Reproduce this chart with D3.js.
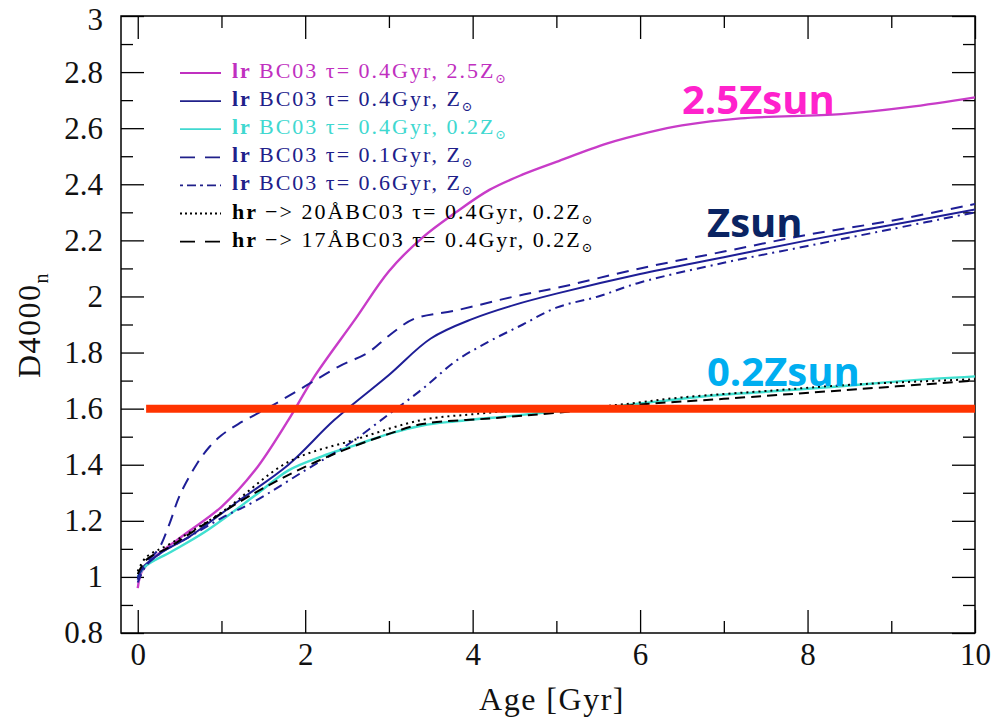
<!DOCTYPE html>
<html>
<head>
<meta charset="utf-8">
<script src="https://cdn.jsdelivr.net/npm/d3@7"></script>
<style>
  body { margin: 0; background: #fff; }
  svg { display: block; }
</style>
</head>
<body>
<div id="chart"></div>
<script>
// ---- data (age in Gyr, D4000n) ----
const magentaAge = [0, 0.05, 0.2, 0.6, 1.0, 1.4, 1.8, 2.1, 2.6, 3.0, 3.4, 3.8, 4.2, 4.6, 5.0, 5.6, 6.1, 6.5, 7.2, 8.4, 9.2, 10];
const magentaD4000 = [0.96, 1.02, 1.07, 1.16, 1.25, 1.38, 1.56, 1.71, 1.92, 2.09, 2.21, 2.30, 2.38, 2.435, 2.48, 2.545, 2.585, 2.61, 2.635, 2.65, 2.675, 2.71];

const navyAge = [0, 0.05, 0.3, 0.6, 1.2, 1.8, 2.35, 3.0, 3.5, 4.0, 4.5, 5.0, 6.0, 7.0, 8.0, 9.0, 10];
const navyD4000 = [0.99, 1.03, 1.09, 1.14, 1.27, 1.40, 1.56, 1.72, 1.85, 1.92, 1.97, 2.01, 2.08, 2.14, 2.20, 2.255, 2.31];

const cyanAge = [0, 0.1, 0.4, 0.8, 1.4, 1.8, 2.2, 2.6, 3.0, 3.4, 3.8, 4.5, 5.0, 5.6, 6.2, 6.8, 7.5, 8.4, 9.2, 10];
const cyanD4000 = [1.0, 1.04, 1.09, 1.16, 1.29, 1.38, 1.43, 1.47, 1.51, 1.54, 1.555, 1.575, 1.59, 1.605, 1.625, 1.645, 1.66, 1.68, 1.70, 1.715];

const tau01Age = [0, 0.1, 0.25, 0.38, 0.5, 0.7, 0.86, 1.0, 1.2, 1.6, 2.0, 2.4, 2.75, 3.0, 3.3, 3.8, 4.5, 5.0, 6.0, 7.0, 8.0, 9.0, 10];
const tau01D4000 = [1.0, 1.05, 1.10, 1.19, 1.29, 1.40, 1.465, 1.505, 1.545, 1.61, 1.68, 1.75, 1.80, 1.86, 1.92, 1.95, 2.00, 2.03, 2.10, 2.16, 2.22, 2.27, 2.33];

const tau06Age = [0, 0.1, 0.3, 0.6, 1.0, 1.4, 2.0, 2.5, 3.0, 3.4, 3.8, 4.2, 4.6, 5.0, 5.5, 6.0, 7.0, 8.0, 9.0, 10];
const tau06D4000 = [0.98, 1.04, 1.09, 1.14, 1.21, 1.27, 1.38, 1.47, 1.58, 1.67, 1.77, 1.84, 1.90, 1.96, 2.00, 2.05, 2.12, 2.18, 2.24, 2.30];

const hr20Age = [0, 0.1, 0.4, 1.0, 1.8, 2.6, 3.4, 4.0, 4.8, 5.6, 6.5, 7.6, 8.5, 10];
const hr20D4000 = [1.02, 1.07, 1.12, 1.23, 1.41, 1.49, 1.56, 1.58, 1.60, 1.61, 1.64, 1.665, 1.685, 1.705];

const hr17Age = [0, 0.1, 0.4, 0.6, 1.4, 2.2, 3.0, 3.4, 4.2, 5.0, 6.0, 7.0, 8.4, 10];
const hr17D4000 = [1.01, 1.06, 1.11, 1.15, 1.30, 1.42, 1.51, 1.545, 1.565, 1.585, 1.615, 1.635, 1.665, 1.70];

// horizontal reference level
const refLevel = 1.6;
const refFrom = 0.1;
const refTo = 10;

const xTicks = [0, 2, 4, 6, 8, 10];
const xMinor = [1, 3, 5, 7, 9];
const yTicks = [0.8, 1, 1.2, 1.4, 1.6, 1.8, 2, 2.2, 2.4, 2.6, 2.8, 3];
const yMinor = [0.9, 1.1, 1.3, 1.5, 1.7, 1.9, 2.1, 2.3, 2.5, 2.7, 2.9];

const legendRows = [
  {lead: "lr", mid: "BC03 τ= 0.4Gyr, ", z: "2.5Z"},
  {lead: "lr", mid: "BC03 τ= 0.4Gyr, ", z: "Z"},
  {lead: "lr", mid: "BC03 τ= 0.4Gyr, ", z: "0.2Z"},
  {lead: "lr", mid: "BC03 τ= 0.1Gyr, ", z: "Z"},
  {lead: "lr", mid: "BC03 τ= 0.6Gyr, ", z: "Z"},
  {lead: "hr", mid: "−> 20ÅBC03 τ= 0.4Gyr, ", z: "0.2Z"},
  {lead: "hr", mid: "−> 17ÅBC03 τ= 0.4Gyr, ", z: "0.2Z"}
];

const series = [
  {x: magentaAge, y: magentaD4000, color: "#c83cc8", dash: null, w: 2.4},
  {x: navyAge, y: navyD4000, color: "#1e1e96", dash: null, w: 2},
  {x: cyanAge, y: cyanD4000, color: "#40e0d0", dash: null, w: 2.4},
  {x: tau01Age, y: tau01D4000, color: "#1e1e96", dash: "12,8", w: 2},
  {x: tau06Age, y: tau06D4000, color: "#1e1e96", dash: "9,5,2,5", w: 2},
  {x: hr20Age, y: hr20D4000, color: "#000", dash: "2,4", w: 2},
  {x: hr17Age, y: hr17D4000, color: "#000", dash: "10,6", w: 2}
];
const legendColors = ["#c030c0", "#20208a", "#40d8d0", "#20208a", "#20208a", "#000", "#000"];
const legendDash = [null, null, null, "15,10", "3,4,9,4", "2,3", "15,10"];

const width = 1006, height = 718;
const pLeft = 121, pRight = 975, pTop = 16, pBottom = 633;

const svg = d3.select("#chart").append("svg")
    .attr("width", width)
    .attr("height", height);

const x = d3.scaleLinear().domain([-0.2, 10]).range([pLeft, pRight]);
const y = d3.scaleLinear().domain([0.8, 3]).range([pBottom, pTop]);

const fmt = d => String(+d.toFixed(1));
const serif = "'Liberation Serif', 'DejaVu Serif', serif";

// clip
svg.append("clipPath").attr("id", "clip")
  .append("rect").attr("x", pLeft).attr("y", pTop).attr("width", pRight - pLeft).attr("height", pBottom - pTop);

// axes (ticks inward on all four sides)
function styleAxis(g) {
  g.select(".domain").remove();
  g.selectAll("line").attr("stroke", "#000").attr("stroke-width", 1.3);
  g.selectAll("text").attr("font-family", serif).attr("font-size", 31).attr("fill", "#111");
}
svg.append("g").attr("transform", `translate(0,${pBottom})`)
  .call(d3.axisBottom(x).tickValues(xTicks).tickSize(-23).tickPadding(10).tickFormat(fmt))
  .call(styleAxis);
svg.append("g").attr("transform", `translate(0,${pBottom})`)
  .call(d3.axisBottom(x).tickValues(xMinor).tickSize(-12).tickFormat(""))
  .call(styleAxis);
svg.append("g").attr("transform", `translate(0,${pTop})`)
  .call(d3.axisTop(x).tickValues(xTicks).tickSize(-23).tickFormat(""))
  .call(styleAxis);
svg.append("g").attr("transform", `translate(0,${pTop})`)
  .call(d3.axisTop(x).tickValues(xMinor).tickSize(-12).tickFormat(""))
  .call(styleAxis);
const yAxisG = svg.append("g").attr("transform", `translate(${pLeft},0)`)
  .call(d3.axisLeft(y).tickValues(yTicks).tickSize(-23).tickPadding(18).tickFormat(fmt))
  .call(styleAxis);
// keep the top label inside the page
yAxisG.selectAll(".tick text").filter(d => d === 3).attr("dy", "0.45em");
svg.append("g").attr("transform", `translate(${pLeft},0)`)
  .call(d3.axisLeft(y).tickValues(yMinor).tickSize(-12).tickFormat(""))
  .call(styleAxis);
svg.append("g").attr("transform", `translate(${pRight},0)`)
  .call(d3.axisRight(y).tickValues(yTicks).tickSize(-23).tickFormat(""))
  .call(styleAxis);
svg.append("g").attr("transform", `translate(${pRight},0)`)
  .call(d3.axisRight(y).tickValues(yMinor).tickSize(-12).tickFormat(""))
  .call(styleAxis);

svg.append("rect")
  .attr("x", pLeft).attr("y", pTop)
  .attr("width", pRight - pLeft).attr("height", pBottom - pTop)
  .attr("fill", "none").attr("stroke", "#000").attr("stroke-width", 1.5);

// axis titles
svg.append("text")
  .attr("x", (pLeft + pRight) / 2 + 4).attr("y", 710)
  .attr("text-anchor", "middle")
  .attr("font-family", serif).attr("font-size", 32)
  .attr("letter-spacing", 1.5)
  .attr("fill", "#111")
  .text("Age [Gyr]");

const yTitle = svg.append("text")
  .attr("transform", "translate(40,325) rotate(-90)")
  .attr("text-anchor", "middle")
  .attr("font-family", serif).attr("font-size", 32)
  .attr("letter-spacing", 1.5)
  .attr("fill", "#111");
yTitle.append("tspan").text("D4000");
yTitle.append("tspan").attr("font-size", 20).attr("dy", 8).text("n");

// curves
const line = d3.line()
  .x(d => x(d[0]))
  .y(d => y(d[1]))
  .curve(d3.curveCatmullRom.alpha(0.5));

const curves = svg.append("g").attr("clip-path", "url(#clip)");
series.forEach(s => {
  curves.append("path")
    .datum(d3.zip(s.x, s.y))
    .attr("d", line)
    .attr("fill", "none")
    .attr("stroke", s.color)
    .attr("stroke-width", s.w)
    .attr("stroke-dasharray", s.dash);
});

// legend
const legend = svg.append("g").attr("font-family", serif).attr("font-size", 22)
  .attr("letter-spacing", 2);
legendRows.forEach((r, i) => {
  const yy = 72 + i * 28.1;
  legend.append("line")
    .attr("x1", 180).attr("x2", 221)
    .attr("y1", yy + 1).attr("y2", yy + 1)
    .attr("stroke", legendColors[i])
    .attr("stroke-width", 1.8)
    .attr("stroke-dasharray", legendDash[i]);
  const t = legend.append("text")
    .attr("x", 232).attr("y", yy + 6)
    .attr("fill", legendColors[i])
    .attr("xml:space", "preserve");
  t.append("tspan").attr("font-weight", "bold").text(r.lead + " ");
  t.append("tspan").text(r.mid + r.z);
  t.append("tspan").attr("font-size", 13).attr("dy", 5).text("⊙");
});

// reference line at 1.6
svg.append("path")
  .datum([[refFrom, refLevel], [refTo, refLevel]])
  .attr("d", d3.line().x(d => x(d[0])).y(d => y(d[1])))
  .attr("stroke", "#ff3300")
  .attr("stroke-width", 8);

// annotations
const sans = "'Open Sans', 'Noto Sans', sans-serif";
const notes = [
  {text: "2.5Zsun", x: 682, y: 114, color: "#ff22cc"},
  {text: "Zsun", x: 707, y: 237, color: "#0a2463"},
  {text: "0.2Zsun", x: 707, y: 386, color: "#00aef0"}
];
notes.forEach(n => {
  svg.append("text")
    .attr("x", n.x).attr("y", n.y)
    .attr("font-family", sans).attr("font-weight", "bold")
    .attr("font-size", 40)
    .attr("fill", n.color)
    .text(n.text);
});
</script>
</body>
</html>
